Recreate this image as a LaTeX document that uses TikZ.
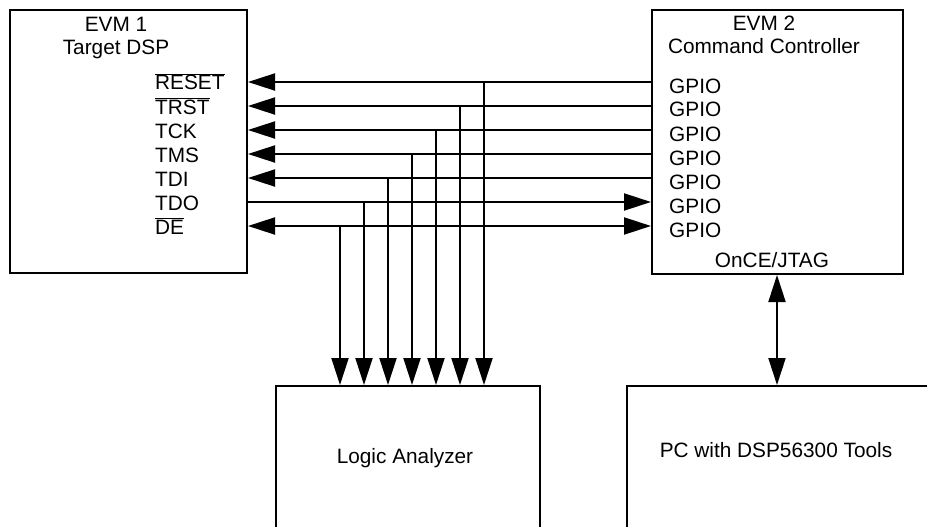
\documentclass[tikz,border=0pt]{standalone}
\usepackage{fontspec}
\setmainfont{Liberation Sans}
\usetikzlibrary{arrows.meta}
\tikzset{
  box/.style={draw, rectangle, line width=2pt, inner sep=0pt},
  wire/.style={line width=2pt},
  pointer/.style={-{Triangle[length=27pt,width=17pt]}},
  twoway/.style={{Triangle[length=27pt,width=17pt]}-{Triangle[length=27pt,width=17pt]}},
  pin/.style={anchor=base west, inner sep=0pt},
}

\begin{document}
\begin{tikzpicture}[x=1pt,y=-1pt,font=\fontsize{20.8}{23.5}\selectfont]
  \clip (0,0) rectangle (927,527);

  % boxes
  \node[box, minimum width=237pt, minimum height=263pt] (evmone) at (128.5,141.5) {};
  \node[box, minimum width=251pt, minimum height=264pt] (evmtwo) at (777.5,142) {};
  \node[box, minimum width=264pt, minimum height=214pt] (analyzer) at (408,493) {};
  \node[box, minimum width=373pt, minimum height=214pt] (pc) at (813.5,493) {};

  \node[align=center] (evmonetitle) at (116,38) {EVM 1\\Target DSP};
  \node[align=center] (evmtwotitle) at (764,35) {EVM 2\\Command Controller};
  \node[anchor=base, inner sep=0pt] (jtaglabel) at (772,267) {OnCE/JTAG};
  \node[anchor=base, inner sep=0pt] (analyzertext) at (405,463) {Logic Analyzer};
  \node[anchor=base, inner sep=0pt] (pctext) at (776,457) {PC with DSP56300 Tools};

  % signal rows
  \coordinate (rowreset) at (0,82);
  \coordinate (rowtrst) at (0,106);
  \coordinate (rowtck) at (0,130);
  \coordinate (rowtms) at (0,154);
  \coordinate (rowtdi) at (0,178);
  \coordinate (rowtdo) at (0,202);
  \coordinate (rowde) at (0,226);

  \path
  (155,90) node[pin] (reset) {$\overline{\mbox{RESET}}$}
  (155,114) node[pin] (trst) {$\overline{\mbox{TRST}}$}
  (155,138) node[pin] (tck) {TCK}
  (155,162) node[pin] (tms) {TMS}
  (155,186) node[pin] (tdi) {TDI}
  (155,210) node[pin] (tdo) {TDO}
  (155,234) node[pin] (de) {$\overline{\mbox{DE}}$}
  ;
  \path
  (669,93) node[pin] (gpioa) {GPIO}
  (669,117) node[pin] (gpiob) {GPIO}
  (669,141) node[pin] (gpioc) {GPIO}
  (669,165) node[pin] (gpiod) {GPIO}
  (669,189) node[pin] (gpioe) {GPIO}
  (669,213) node[pin] (gpiof) {GPIO}
  (669,237) node[pin] (gpiog) {GPIO}
  ;

  \draw[wire, pointer] (evmtwo.west |- rowreset) -- (evmone.east |- rowreset);
  \draw[wire, pointer] (evmtwo.west |- rowtrst) -- (evmone.east |- rowtrst);
  \draw[wire, pointer] (evmtwo.west |- rowtck) -- (evmone.east |- rowtck);
  \draw[wire, pointer] (evmtwo.west |- rowtms) -- (evmone.east |- rowtms);
  \draw[wire, pointer] (evmtwo.west |- rowtdi) -- (evmone.east |- rowtdi);
  \draw[wire, pointer] (evmone.east |- rowtdo) -- (evmtwo.west |- rowtdo);
  \draw[wire, twoway] (evmone.east |- rowde) -- (evmtwo.west |- rowde);

  % taps to the analyzer
  \coordinate (tapreset) at (484,82);
  \coordinate (taptrst) at (460,106);
  \coordinate (taptck) at (436,130);
  \coordinate (taptms) at (412,154);
  \coordinate (taptdi) at (388,178);
  \coordinate (taptdo) at (364,202);
  \coordinate (tapde) at (340,226);

  \draw[wire, pointer] (tapreset) -- (tapreset |- analyzer.north);
  \draw[wire, pointer] (taptrst) -- (taptrst |- analyzer.north);
  \draw[wire, pointer] (taptck) -- (taptck |- analyzer.north);
  \draw[wire, pointer] (taptms) -- (taptms |- analyzer.north);
  \draw[wire, pointer] (taptdi) -- (taptdi |- analyzer.north);
  \draw[wire, pointer] (taptdo) -- (taptdo |- analyzer.north);
  \draw[wire, pointer] (tapde) -- (tapde |- analyzer.north);

  \coordinate (jtag) at (777,0);
  \draw[wire, twoway] (jtag |- evmtwo.south) -- (jtag |- pc.north);
\end{tikzpicture}
\end{document}
